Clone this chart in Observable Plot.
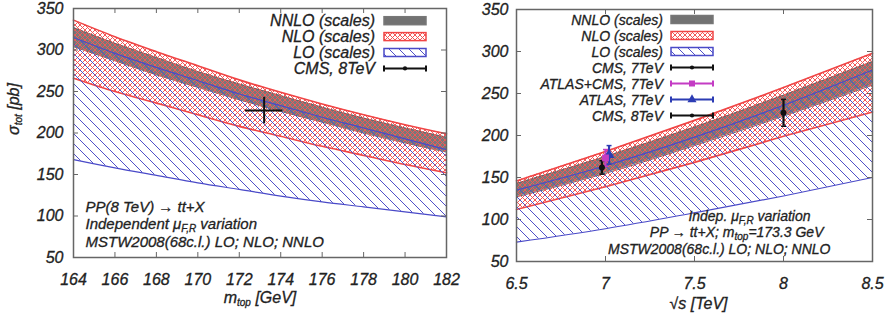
<!DOCTYPE html>
<html><head><meta charset="utf-8">
<script src="https://cdn.jsdelivr.net/npm/d3@7"></script>
<script src="https://cdn.jsdelivr.net/npm/@observablehq/plot@0.6"></script>
<style>
body{margin:0;background:#fff;}
#wrap{position:relative;width:892px;height:323px;overflow:hidden;background:#fff;}
#wrap svg.panel{position:absolute;top:0;overflow:visible;background:transparent;}
#wrap svg.panel text{stroke:#222;stroke-width:0.3px;}
</style></head><body>
<svg width="0" height="0" style="position:absolute">
  <defs>
    <pattern id="redX" width="5" height="5" patternUnits="userSpaceOnUse">
      <path d="M0,0L5,5M5,0L0,5" stroke="#f25858" stroke-width="1" fill="none"/>
    </pattern>
    <pattern id="blueD" width="10" height="10" patternUnits="userSpaceOnUse">
      <path d="M0,0L10,10M-2,8L2,12M8,-2L12,2" stroke="#5050c8" stroke-width="1" fill="none"/>
    </pattern>
  </defs>
</svg>
<div id="wrap"></div>
<script>
// ---------- data: left panel (sigma vs m_top, 8 TeV) ----------
const mTop    = [164,166,168,170,172,174,176,178,180,182];
const mNNLOhi = [327,308,291,274,259,245,231,218,206,195];
const mNNLOlo = [304,287,270,255,240,226,213,200,188,177];
const mNLOhi  = [336,316,298,281,264,249,235,222,210,199];
const mNLOlo  = [266,250,236,222,208,196,184,173,162,152];
const mLOhi   = [315,296,279,263,247,233,219,206,193,180];
const mLOlo   = [168,158,149,140,132,124,117,111,105,99];
const mPtX = [173.2], mPtXerr = [0.9], mPtY = [227], mPtYerr = [16];

// ---------- data: right panel (sigma vs sqrt(s)) ----------
const sqrtS   = [6.5,7,7.5,8,8.5];
const sNNLOhi = [143,175,210,248,288];
const sNNLOlo = [127,155,188,223,260];
const sNLOhi  = [146,181,218,257,298];
const sNLOlo  = [112,139,168,199,228];
const sLOhi   = [135,164,198,236,278];
const sLOlo   = [73,89,108,128,150];
const ptNames = ["CMS, 7TeV","ATLAS+CMS, 7TeV","ATLAS, 7TeV","CMS, 8TeV"];
const ptX     = [6.98,7.0,7.02,8.0];
const ptY     = [162,173.3,177,227];
const ptErr   = [8,10,11,16];

// ---------- ticks / labels ----------
const yTicks  = [50,100,150,200,250,300,350];
const xTicksL = [164,166,168,170,172,174,176,178,180,182];
const xTicksR = [6.5,7,7.5,8,8.5];
const legendL = ["NNLO (scales)","NLO (scales)","LO (scales)","CMS, 8TeV"];
const legendR = ["NNLO (scales)","NLO (scales)","LO (scales)"].concat(ptNames);
const notesL  = ["PP(8 TeV) \u2192 tt+X","Independent \u03bc_{F,R} variation","MSTW2008(68c.l.) LO; NLO; NNLO"];
const notesR  = ["Indep. \u03bc_{F,R} variation","PP \u2192 tt+X; m_{top}=173.3 GeV","MSTW2008(68c.l.) LO; NLO; NNLO"];

// ---------- styles ----------
const RED = "#f04646", BLUE = "#4a4ac8", GRAY = "#727272", FRAME = "#666", TXT = "#222";
const ptColors = ["#111","#c43cc4","#2c3cb4","#111"];
const ptSymbols = ["circle","square","triangle","circle"];
const ptR = [1.8,3,3.2,1.8];
const FONT = "'Liberation Sans', Arial, Helvetica, sans-serif";

const band = (xs, lo, hi) => xs.map((x,i)=>({x, lo:lo[i], hi:hi[i]}));
const capSym = {draw(ctx, size){ const r = Math.sqrt(size/Math.PI); ctx.moveTo(-r,0); ctx.lineTo(r,0); }};

function bandMarks(nnlo, nlo, lo){
  const c = "monotone-x";
  return [
    Plot.areaY(nnlo, {x:"x", y1:"lo", y2:"hi", fill:GRAY, fillOpacity:0.95, curve:c}),
    Plot.line(nnlo, {x:"x", y:"hi", stroke:"#666", strokeWidth:1, curve:c}),
    Plot.line(nnlo, {x:"x", y:"lo", stroke:"#666", strokeWidth:1, curve:c}),
    Plot.areaY(nlo, {x:"x", y1:"lo", y2:"hi", fill:"url(#redX)", curve:c}),
    Plot.line(nlo, {x:"x", y:"hi", stroke:RED, strokeWidth:1.6, curve:c}),
    Plot.line(nlo, {x:"x", y:"lo", stroke:RED, strokeWidth:1.6, curve:c}),
    Plot.areaY(lo, {x:"x", y1:"lo", y2:"hi", fill:"url(#blueD)", curve:c}),
    Plot.line(lo, {x:"x", y:"hi", stroke:BLUE, strokeWidth:1.2, curve:c}),
    Plot.line(lo, {x:"x", y:"lo", stroke:BLUE, strokeWidth:1.2, curve:c})
  ];
}

function frameMarks(xt, yt, innerW, innerH, padX, padY){
  const t = 5;
  return [
    Plot.frame({stroke:FRAME, strokeWidth:1.5}),
    Plot.tickX(xt, {x:d=>d, insetTop:innerH - t, stroke:FRAME}),
    Plot.tickX(xt, {x:d=>d, insetBottom:innerH - t, stroke:FRAME}),
    Plot.tickY(yt, {y:d=>d, insetRight:innerW - t, stroke:FRAME}),
    Plot.tickY(yt, {y:d=>d, insetLeft:innerW - t, stroke:FRAME}),
    Plot.axisX(xt, {anchor:"bottom", tickSize:0, tickPadding:padX, label:null, fill:TXT, tickFormat:d=>String(d)}),
    Plot.axisY(yt, {anchor:"left", tickSize:0, tickPadding:padY, label:null, fill:TXT, tickFormat:d=>String(d)})
  ];
}

function richify(svg){
  d3.select(svg).selectAll("text").each(function(){
    if (this.querySelector("tspan")) return;
    const s = this.textContent;
    if (!s.includes("_{")) return;
    const el = d3.select(this); el.text(null);
    let shifted = false;
    for (const p of s.split(/(_\{[^}]*\})/)){
      if (!p) continue;
      if (p.startsWith("_{")) { el.append("tspan").attr("dy", 3).attr("font-size", "10px").text(p.slice(2,-1)); shifted = true; }
      else { const t = el.append("tspan").text(p); if (shifted) { t.attr("dy", -3); shifted = false; } }
    }
  });
}

function addLegend(svg, labels, kinds, textEnd, swX, y0, dy, fs){
  const g = d3.select(svg).append("g").attr("font-family", FONT).attr("font-size", fs).attr("font-style","italic");
  labels.forEach((lab, i) => {
    const y = y0 + i*dy, k = kinds[i];
    g.append("text").attr("x", textEnd).attr("y", y).attr("dy","0.36em").attr("text-anchor","end").attr("fill", TXT).text(lab);
    if (k.type === "band") {
      g.append("rect").attr("x", swX).attr("y", y-4).attr("width", 42).attr("height", 8)
        .attr("fill", k.fill).attr("stroke", k.stroke).attr("stroke-width", 1.5);
    } else {
      g.append("line").attr("x1", swX).attr("x2", swX+42).attr("y1", y).attr("y2", y).attr("stroke", k.color).attr("stroke-width", 2);
      g.append("line").attr("x1", swX).attr("x2", swX).attr("y1", y-3).attr("y2", y+3).attr("stroke", k.color).attr("stroke-width", 2);
      g.append("line").attr("x1", swX+42).attr("x2", swX+42).attr("y1", y-3).attr("y2", y+3).attr("stroke", k.color).attr("stroke-width", 2);
      const sym = d3.symbol().type(k.symbol === "square" ? d3.symbolSquare : k.symbol === "triangle" ? d3.symbolTriangle : d3.symbolCircle)
        .size(k.symbol === "circle" ? 14 : 36);
      g.append("path").attr("d", sym()).attr("transform", `translate(${swX+21},${y})`).attr("fill", k.color);
    }
  });
}

const styleBase = {fontFamily:FONT, fontSize:"16px", fontStyle:"italic", color:TXT, background:"transparent", overflow:"visible"};
const wrap = document.getElementById("wrap");

// ---------- left panel ----------
{
  const W = 450, H = 323, ml = 73, mr = 4, mt = 8, mb = 66;
  const innerW = W - ml - mr, innerH = H - mt - mb;
  const pts = mPtX.map((x,i)=>({x, xe:mPtXerr[i], y:mPtY[i], ye:mPtYerr[i]}));
  const chart = Plot.plot({
    width: W, height: H, marginLeft: ml, marginRight: mr, marginTop: mt, marginBottom: mb,
    style: styleBase,
    x: {domain:[164,182]},
    y: {domain:[50,350]},
    marks: [
      ...bandMarks(band(mTop,mNNLOlo,mNNLOhi), band(mTop,mNLOlo,mNLOhi), band(mTop,mLOlo,mLOhi)),
      Plot.ruleX(pts, {x:"x", y1:d=>d.y-d.ye, y2:d=>d.y+d.ye, stroke:"#111", strokeWidth:2}),
      Plot.ruleY(pts, {y:"y", x1:d=>d.x-d.xe, x2:d=>d.x+d.xe, stroke:"#111", strokeWidth:2}),
      ...frameMarks(xTicksL, yTicks, innerW, innerH, 16, 10),
      Plot.text([notesL[0]], {text:d=>d, frameAnchor:"bottom-left", textAnchor:"start", dx:12, dy:-46, fill:TXT, fontSize:15}),
      Plot.text([notesL[1]], {text:d=>d, frameAnchor:"bottom-left", textAnchor:"start", dx:12, dy:-29, fill:TXT, fontSize:15}),
      Plot.text([notesL[2]], {text:d=>d, frameAnchor:"bottom-left", textAnchor:"start", dx:12, dy:-11, fill:TXT, fontSize:15}),
      Plot.text(["m_{top} [GeV]"], {text:d=>d, frameAnchor:"bottom", dy:45, fill:TXT}),
      Plot.text(["\u03c3_{tot} [pb]"], {text:d=>d, frameAnchor:"left", rotate:-90, dx:-60, dy:2, fill:TXT})
    ]
  });
  chart.classList.add("panel");
  chart.style.left = "0px";
  richify(chart);
  addLegend(chart, legendL, [
    {type:"band", fill:GRAY, stroke:"#777"},
    {type:"band", fill:"url(#redX)", stroke:RED},
    {type:"band", fill:"url(#blueD)", stroke:BLUE},
    {type:"err", color:"#111", symbol:"circle"}
  ], 375, 384, 20.7, 15.9, 16);
  wrap.appendChild(chart);
}

// ---------- right panel ----------
{
  const W = 442, H = 323, ml = 66, mr = 20, mt = 9, mb = 62;
  const innerW = W - ml - mr, innerH = H - mt - mb;
  const pts = ptX.map((x,i)=>({x, y:ptY[i], e:ptErr[i], c:ptColors[i], s:ptSymbols[i], r:ptR[i]}));
  const chart = Plot.plot({
    width: W, height: H, marginLeft: ml, marginRight: mr, marginTop: mt, marginBottom: mb,
    style: styleBase,
    x: {domain:[6.5,8.5]},
    y: {domain:[50,350]},
    color: {type:"identity"},
    symbol: {type:"identity"},
    marks: [
      ...bandMarks(band(sqrtS,sNNLOlo,sNNLOhi), band(sqrtS,sNLOlo,sNLOhi), band(sqrtS,sLOlo,sLOhi)),
      Plot.ruleX(pts, {x:"x", y1:d=>d.y-d.e, y2:d=>d.y+d.e, stroke:"c", strokeWidth:2.2}),
      Plot.dot(pts, {x:"x", y:d=>d.y+d.e, symbol:capSym, r:2.5, stroke:"c", strokeWidth:1.5}),
      Plot.dot(pts, {x:"x", y:d=>d.y-d.e, symbol:capSym, r:2.5, stroke:"c", strokeWidth:1.5}),
      Plot.dot(pts, {x:"x", y:"y", symbol:"s", r:"r", fill:"c", stroke:"none"}),
      ...frameMarks(xTicksR, yTicks, innerW, innerH, 16, 8),
      Plot.text([notesR[0]], {text:d=>d, frameAnchor:"bottom-right", textAnchor:"end", dx:-62, dy:-41, fill:TXT, fontSize:14}),
      Plot.text([notesR[1]], {text:d=>d, frameAnchor:"bottom-right", textAnchor:"end", dx:-49, dy:-25, fill:TXT, fontSize:14}),
      Plot.text([notesR[2]], {text:d=>d, frameAnchor:"bottom-right", textAnchor:"end", dx:-42, dy:-8, fill:TXT, fontSize:14}),
      Plot.text(["\u221as [TeV]"], {text:d=>d, frameAnchor:"bottom", dx:4, dy:47, fill:TXT})
    ]
  });
  chart.classList.add("panel");
  chart.style.left = "450px";
  richify(chart);
  addLegend(chart, legendR, [
    {type:"band", fill:GRAY, stroke:"#777"},
    {type:"band", fill:"url(#redX)", stroke:RED},
    {type:"band", fill:"url(#blueD)", stroke:BLUE},
    {type:"err", color:ptColors[0], symbol:ptSymbols[0]},
    {type:"err", color:ptColors[1], symbol:ptSymbols[1]},
    {type:"err", color:ptColors[2], symbol:ptSymbols[2]},
    {type:"err", color:ptColors[3], symbol:ptSymbols[3]}
  ], 213, 221, 19.5, 16, 14);
  wrap.insertBefore(chart, wrap.firstChild);
}
</script>
</body></html>
